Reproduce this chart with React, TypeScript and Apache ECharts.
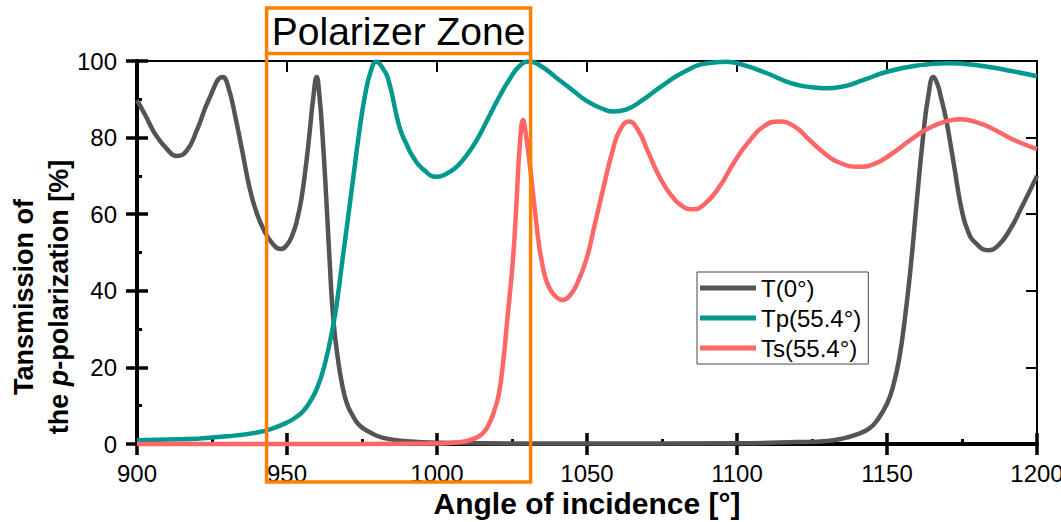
import React, { useEffect, useRef } from "react";
import * as echarts from "echarts";

const FONT = "'Liberation Sans', Arial, Helvetica, sans-serif";

const xTicks = { min: 900, max: 1200, interval: 50 };
const yTicks = { min: 0, max: 100, interval: 20 };

const seriesNames = ["T(0°)", "Tp(55.4°)", "Ts(55.4°)"];
const seriesColors = ["#545454", "#00998F", "#FF6666"];

const zoneStart = 943.2;
const zoneEnd = 1031.2;
const zoneLabel = "Polarizer Zone";

const xTitle = "Angle of incidence [°]";

// T(0°)
const tAngles = [900, 903, 906, 910, 913.2, 916.5, 920, 924, 928.6, 930.5, 932.9, 935.2, 937.5, 939.8, 942.2, 945, 947.8, 950, 952, 953.5, 954.8, 956.2, 957.5, 958.7, 959.9, 960.8, 961.8, 963.1, 964.2, 965.4, 967, 968.5, 970, 971.5, 974, 977.8, 982, 990, 1000, 1050, 1100, 1120, 1130, 1135, 1140, 1144, 1147, 1150, 1152, 1154, 1156, 1158, 1160, 1162, 1163.8, 1165.5, 1166.8, 1168, 1169.5, 1170.8, 1172.5, 1174.8, 1177, 1179.5, 1183.7, 1187, 1191, 1195, 1200];
const tValues = [89.8, 85.5, 81, 77, 75.2, 76.5, 82, 90, 95.8, 93, 85, 76, 67, 60.5, 56, 52.5, 50.9, 52, 55, 59, 64, 72, 81, 90, 95.8, 91, 81, 64, 48, 33, 22, 15, 10.5, 8, 5, 3, 1.6, 0.7, 0.3, 0.1, 0.2, 0.5, 0.8, 1.4, 2.5, 4, 6.5, 10.5, 15, 22, 33, 47, 64, 80, 91, 95.8, 94, 90.5, 85.5, 80, 72, 61.5, 55.5, 52.5, 50.6, 51.8, 56, 62, 70];

// Tp(55.4°)
const tpAngles = [900, 910, 920, 930, 940, 945, 950, 953, 955.3, 957.5, 960, 962.5, 965.4, 967, 968.4, 970, 972, 974, 976, 978, 979.7, 982, 984, 987.4, 990, 992, 995, 1000, 1003, 1006, 1009, 1013, 1018, 1021, 1024, 1027.5, 1031, 1035, 1040, 1045, 1050, 1055, 1059, 1063, 1068, 1075, 1082, 1090, 1096.5, 1102, 1110, 1118, 1124, 1129, 1135, 1142, 1150, 1160, 1170, 1180, 1190, 1200];
const tpValues = [1, 1.2, 1.4, 2, 3, 4, 5.6, 7, 8.5, 10.8, 14.5, 20.5, 31, 39, 47.5, 57, 69, 81, 91, 97.5, 99.8, 98, 94.5, 83, 78, 75, 72, 69.8, 70.5, 72, 74.5, 79, 86.5, 91, 95, 98.7, 99.9, 98.5, 95.5, 92.5, 89.5, 87.6, 86.8, 87.3, 89.5, 93.5, 97, 99.4, 99.8, 99, 96.8, 94.2, 93.2, 92.9, 93.3, 95, 97.2, 98.8, 99.4, 98.9, 97.6, 96];

// Ts(55.4°)
const tsAngles = [900, 950, 1000, 1005, 1010, 1013, 1015.5, 1017.5, 1019, 1020.6, 1022, 1023.5, 1025.3, 1026.5, 1027.6, 1028.7, 1029.6, 1031, 1032.5, 1034, 1035.2, 1036.5, 1038, 1040, 1041.9, 1044, 1046.5, 1049.7, 1052.5, 1055.5, 1058.5, 1061, 1064, 1067, 1070.5, 1074, 1078, 1082, 1085.2, 1089, 1094, 1099, 1104, 1109, 1114, 1119, 1124, 1129, 1134, 1140.6, 1146, 1152, 1158, 1164, 1170, 1174.3, 1180, 1186, 1192, 1200];
const tsValues = [0, 0, 0.1, 0.3, 0.8, 1.6, 3, 5.5, 8.5, 13, 21, 33, 48, 63, 78, 84.6, 81, 72.5, 62, 52, 46.5, 42.5, 40, 38.2, 37.6, 38.5, 41.5, 48, 57, 67, 76.5, 82, 84.2, 82, 76, 70, 65, 62, 61.3, 62.5, 67, 73.5, 79, 83, 84.2, 83, 79.5, 76, 73.5, 72.4, 73.2, 76, 79.5, 82.5, 84.3, 84.8, 84, 82, 79.5, 77];

const seriesAngles = [tAngles, tpAngles, tsAngles];
const seriesValues = [tValues, tpValues, tsValues];

export default function App() {
  const ref = useRef<HTMLDivElement>(null);

  useEffect(() => {
    document.body.style.margin = "0";
    if (!ref.current) return;
    const chart = echarts.init(ref.current, undefined, { renderer: "svg" });

    const black = "#000";
    const axisCommon = (extra: any) => ({
      type: "value",
      splitLine: { show: false },
      ...extra,
    });
    const fmt = (v: number) => String(v);

    const option: any = {
      animation: false,
      backgroundColor: "#fff",
      textStyle: { fontFamily: FONT },
      grid: { left: 137, right: 24, top: 61, bottom: 78, containLabel: false, outerBoundsMode: "none" },
      legend: {
        orient: "vertical",
        left: 697,
        top: 272,
        padding: [4, 7, 4, 3],
        itemGap: 6,
        itemWidth: 56,
        itemHeight: 5,
        icon: "rect",
        borderColor: "#444",
        borderWidth: 1,
        backgroundColor: "#fff",
        textStyle: { fontSize: 24, color: black, fontFamily: FONT, lineHeight: 24 },
        data: seriesNames,
      },
      xAxis: [
        axisCommon({
          ...xTicks,
          position: "bottom",
          axisLine: { show: true, onZero: false, lineStyle: { color: black, width: 4 } },
          axisTick: { show: true, inside: false, length: 11, lineStyle: { color: black, width: 3.5 } },
          axisLabel: { margin: 18, fontSize: 24, lineHeight: 22, color: black, fontFamily: FONT, formatter: fmt },
          name: xTitle,
          nameLocation: "middle",
          nameGap: 45,
          nameMoveOverlap: false,
          nameTextStyle: { fontSize: 30, lineHeight: 28, fontWeight: "bold", color: black, fontFamily: FONT },
        }),
        axisCommon({
          ...xTicks,
          position: "bottom",
          axisLine: { show: false, onZero: false },
          axisTick: { show: true, inside: true, length: 11, lineStyle: { color: black, width: 3.5 } },
          minorTick: { show: true, splitNumber: 2, length: 5, lineStyle: { color: black, width: 3 } },
          axisLabel: { show: false },
        }),
        axisCommon({
          ...xTicks,
          position: "top",
          axisLine: { show: true, onZero: false, lineStyle: { color: black, width: 2 } },
          axisTick: { show: true, inside: true, length: 11, lineStyle: { color: black, width: 2 } },
          axisLabel: { show: false },
        }),
      ],
      yAxis: [
        axisCommon({
          ...yTicks,
          position: "left",
          axisLine: { show: true, onZero: false, lineStyle: { color: black, width: 4 } },
          axisTick: { show: true, inside: false, length: 11, lineStyle: { color: black, width: 3.5 } },
          axisLabel: { margin: 20, fontSize: 24, color: black, fontFamily: FONT, formatter: fmt },
        }),
        axisCommon({
          ...yTicks,
          position: "left",
          axisLine: { show: false, onZero: false },
          axisTick: { show: true, inside: true, length: 11, lineStyle: { color: black, width: 3.5 } },
          minorTick: { show: true, splitNumber: 2, length: 5, lineStyle: { color: black, width: 3 } },
          axisLabel: { show: false },
        }),
        axisCommon({
          ...yTicks,
          position: "right",
          axisLine: { show: true, onZero: false, lineStyle: { color: black, width: 2 } },
          axisTick: { show: true, inside: true, length: 11, lineStyle: { color: black, width: 2 } },
          axisLabel: { show: false },
        }),
      ],
      series: seriesNames.map((name, i) => ({
        name,
        type: "line",
        xAxisIndex: 0,
        yAxisIndex: 0,
        showSymbol: false,
        symbol: "none",
        smooth: 0.5,
        clip: false,
        color: seriesColors[i],
        lineStyle: { color: seriesColors[i], width: 4.5 },
        data: seriesAngles[i].map((a, j) => [a, seriesValues[i][j]]),
      })),
    };

    chart.setOption(option);

    const x0 = chart.convertToPixel({ xAxisIndex: 0 }, zoneStart) as number;
    const x1 = chart.convertToPixel({ xAxisIndex: 0 }, zoneEnd) as number;
    const orange = "#FF7F00";

    chart.setOption({
      graphic: [
        {
          type: "rect",
          z: 100,
          shape: { x: x0, y: 8, width: x1 - x0, height: 474 },
          style: { fill: "none", stroke: orange, lineWidth: 3.5 },
        },
        {
          type: "line",
          z: 100,
          shape: { x1: x0, y1: 53.5, x2: x1, y2: 53.5 },
          style: { stroke: orange, lineWidth: 3.5 },
        },
        {
          type: "text",
          z: 100,
          x: (x0 + x1) / 2,
          y: 31,
          style: {
            text: zoneLabel,
            fontSize: 39,
            fontFamily: FONT,
            fill: black,
            align: "center",
            verticalAlign: "middle",
          },
        },
        {
          type: "text",
          z: 100,
          x: 41,
          y: 297,
          rotation: Math.PI / 2,
          style: {
            text: "{b|Tansmission of}\n{b|the }{i|p}{b|-polarization [%]}",
            align: "center",
            verticalAlign: "middle",
            fill: black,
            rich: {
              b: { fontSize: 27, fontWeight: "bold", fontFamily: FONT, lineHeight: 35, fill: black },
              i: { fontSize: 27, fontWeight: "bold", fontStyle: "italic", fontFamily: FONT, lineHeight: 35, fill: black },
            },
          },
        },
      ],
    });

    return () => {
      chart.dispose();
    };
  }, []);

  return <div ref={ref} style={{ width: 1061, height: 522 }} />;
}
